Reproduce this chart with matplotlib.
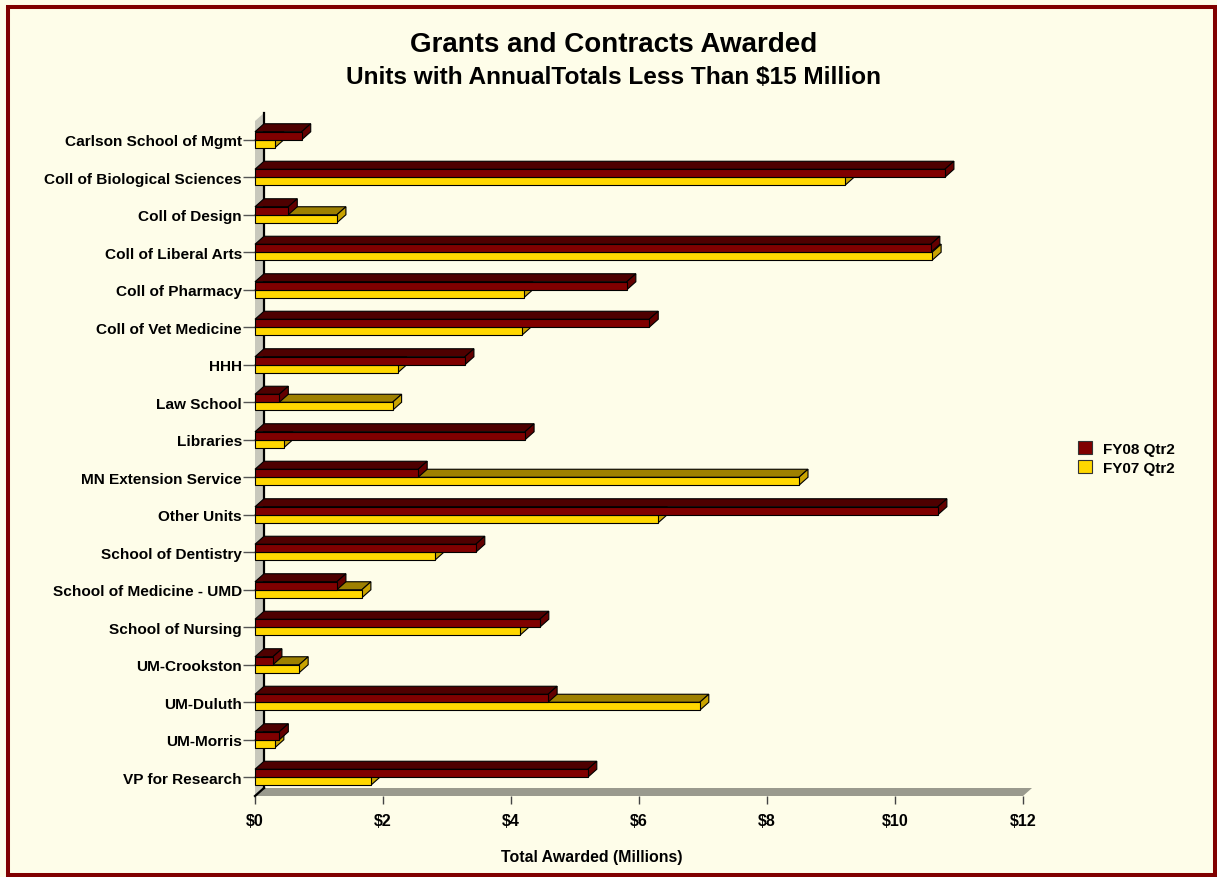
import numpy as np
import matplotlib.pyplot as plt
from matplotlib.patches import Polygon, Rectangle, Patch

plt.rcParams['font.family'] = ['Liberation Sans', 'DejaVu Sans']
plt.rcParams['font.weight'] = 'bold'

units = [
    "Carlson School of Mgmt", "Coll of Biological Sciences", "Coll of Design",
    "Coll of Liberal Arts", "Coll of Pharmacy", "Coll of Vet Medicine", "HHH",
    "Law School", "Libraries", "MN Extension Service", "Other Units",
    "School of Dentistry", "School of Medicine - UMD", "School of Nursing",
    "UM-Crookston", "UM-Duluth", "UM-Morris", "VP for Research",
]
fy08 = [0.73, 10.78, 0.52, 10.56, 5.81, 6.16, 3.28, 0.38, 4.22, 2.55,
        10.67, 3.45, 1.28, 4.45, 0.28, 4.58, 0.38, 5.20]
fy07 = [0.31, 9.22, 1.28, 10.58, 4.20, 4.17, 2.23, 2.15, 0.45, 8.50,
        6.30, 2.81, 1.67, 4.14, 0.69, 6.95, 0.31, 1.81]
xticks = [0, 2, 4, 6, 8, 10, 12]

BG = "#FEFDE9"
RED = ("#800000", "#4E0000", "#640000")      # front, top, side
GOLD = ("#FFD700", "#9E8000", "#C9A300")

W, H = 1217, 878
fig = plt.figure(figsize=(W / 100, H / 100), dpi=100, facecolor=BG)
ax = fig.add_axes([255 / W, (H - 797) / H, 768 / W, 675 / H])
ax.set_facecolor("none")
ax.set_xlim(0, 12)
ax.set_ylim(len(units) - 0.5, -0.5)
for s in ax.spines.values():
    s.set_visible(False)

# depth offsets in data units (about 9 px right, 8 px up)
dx = 9 / 64
dy = 8 / 37.5
h = 8 / 37.5
y0 = len(units) - 0.5
ytop = -0.5

# back wall and floor
ax.add_patch(Polygon([(0, y0), (0, ytop), (dx, ytop - dy), (dx, y0 - dy)],
                     closed=True, fc="#C8C8BC", ec="none", clip_on=False, zorder=1))
ax.add_patch(Polygon([(0, y0), (12, y0), (12 + dx, y0 - dy), (dx, y0 - dy)],
                     closed=True, fc="#9A9A8E", ec="none", clip_on=False, zorder=1))
ax.plot([dx, dx], [ytop - dy, y0 - dy], color="black", lw=1.6, clip_on=False, zorder=2)
ax.plot([0, dx], [y0, y0 - dy], color="black", lw=1.6, clip_on=False, zorder=2)


def bar3d(v, ylo, cols, z):
    # ylo is the lower edge of the front face (larger y value, axis inverted)
    front, top, side = cols
    yhi = ylo - h
    kw = dict(closed=True, ec="black", lw=0.8, clip_on=False, zorder=z)
    ax.add_patch(Polygon([(0, yhi), (v, yhi), (v + dx, yhi - dy), (dx, yhi - dy)], fc=top, **kw))
    ax.add_patch(Polygon([(v, ylo), (v, yhi), (v + dx, yhi - dy), (v + dx, ylo - dy)], fc=side, **kw))
    ax.add_patch(Polygon([(0, ylo), (v, ylo), (v, yhi), (0, yhi)], fc=front, **kw))


for i in range(len(units)):
    bar3d(fy07[i], i + h, GOLD, 3 + i * 0.01)
    bar3d(fy08[i], i, RED, 4 + i * 0.01)

ax.set_yticks(range(len(units)))
ax.set_yticklabels(units, fontsize=11.1, fontweight="bold")
ax.tick_params(axis="y", length=8.5, width=1, color="#555555", pad=1)
ax.set_xticks(xticks)
ax.set_xticklabels(["$%d" % t for t in xticks], fontsize=11.5, fontweight="bold")
ax.tick_params(axis="x", length=6, width=1, color="#444444", pad=6)

fig.text(614 / W, 1 - 45 / H, "Grants and Contracts Awarded", ha="center", va="center",
         fontsize=20, fontweight="bold")
fig.text(614 / W, 1 - 78 / H, "Units with AnnualTotals Less Than $15 Million", ha="center",
         va="center", fontsize=17.6, fontweight="bold")
fig.text(592 / W, 1 - 858 / H, "Total Awarded (Millions)", ha="center", va="center",
         fontsize=11.4, fontweight="bold")

handles = [Patch(fc=RED[0], ec="#333333", lw=0.8, label="FY08 Qtr2"),
           Patch(fc=GOLD[0], ec="#333333", lw=0.8, label="FY07 Qtr2")]
fig.legend(handles=handles, loc="center left", bbox_to_anchor=(1064 / W, 1 - 459 / H),
           frameon=False, handlelength=0.9, handleheight=0.9, handletextpad=0.75,
           labelspacing=0.3, prop={"size": 11, "weight": "bold"})

# frame
fig.add_artist(Rectangle((8 / W, 2 / H), (W - 10) / W, (H - 10) / H, transform=fig.transFigure,
                         fill=False, ec="#800000", lw=2.9))

fig.savefig("out.png", dpi=100, facecolor=BG)
